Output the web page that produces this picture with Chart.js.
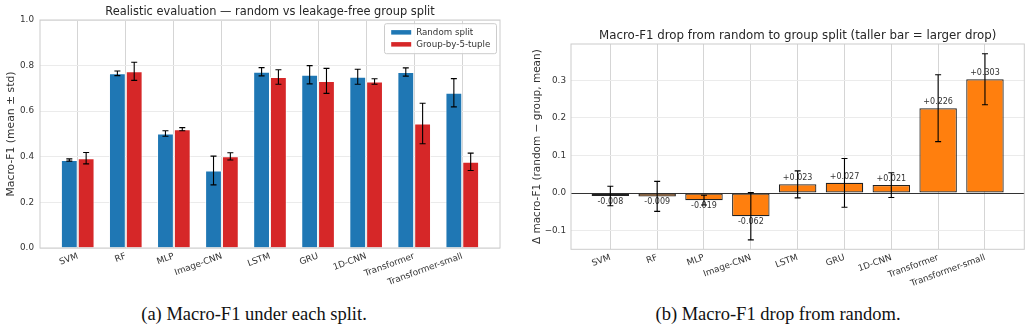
<!DOCTYPE html>
<html>
<head>
<meta charset="utf-8">
<script src="https://cdn.jsdelivr.net/npm/chart.js@4"></script>
<style>
  body { margin: 0; background: #fff; width: 1032px; height: 331px; position: relative; overflow: hidden; }
  canvas { position: absolute; top: 0; }
  #left { left: 0; }
  #right { left: 516px; }
  .cap { position: absolute; top: 304px; font-family: "Liberation Serif", serif; font-size: 18.5px; line-height: 21px; color: #111;
         white-space: nowrap; transform: translateX(-50%); }
</style>
</head>
<body>
<canvas id="left" width="516" height="290"></canvas>
<canvas id="right" width="516" height="290"></canvas>
<div class="cap" style="left:254px">(a) Macro-F1 under each split.</div>
<div class="cap" style="left:778px">(b) Macro-F1 drop from random.</div>
<script>
// models on the x axis
const categories = ['SVM', 'RF', 'MLP', 'Image-CNN', 'LSTM', 'GRU', '1D-CNN', 'Transformer', 'Transformer-small'];

// left panel: macro-F1 mean and std for each split
const randomMean = [0.386, 0.766, 0.502, 0.340, 0.773, 0.760, 0.751, 0.772, 0.681];
const randomStd  = [0.005, 0.010, 0.012, 0.063, 0.018, 0.040, 0.033, 0.018, 0.062];
const groupMean  = [0.394, 0.775, 0.521, 0.402, 0.750, 0.733, 0.730, 0.546, 0.378];
const groupStd   = [0.025, 0.040, 0.007, 0.016, 0.032, 0.055, 0.012, 0.089, 0.038];

// right panel: drop (random - group) and its spread
const delta    = [-0.008, -0.009, -0.019, -0.062, 0.023, 0.027, 0.021, 0.226, 0.303];
const deltaErr = [0.026, 0.040, 0.013, 0.063, 0.036, 0.065, 0.033, 0.089, 0.068];

const leftTicks = [0, 0.2, 0.4, 0.6, 0.8, 1.0];
const rightTicks = [-0.1, 0, 0.1, 0.2, 0.3];

Chart.defaults.font.family = "'DejaVu Sans', sans-serif";
Chart.defaults.color = '#333';

// light grey box round the plot, like matplotlib spines
const frame = {
  id: 'frame',
  afterDatasetsDraw(chart) {
    const a = chart.chartArea, c = chart.ctx;
    c.save();
    c.strokeStyle = '#cccccc';
    c.lineWidth = 1;
    c.strokeRect(a.left, a.top, a.right - a.left, a.bottom - a.top);
    c.restore();
  }
};

// title centred over the plot area (matplotlib style), not over the canvas
const plotTitle = {
  id: 'plotTitle',
  afterDraw(chart, args, opts) {
    const a = chart.chartArea, c = chart.ctx;
    c.save();
    c.font = opts.size + "px 'DejaVu Sans'";
    c.fillStyle = '#262626';
    c.textAlign = 'center';
    c.textBaseline = 'middle';
    c.fillText(opts.text, (a.left + a.right) / 2, opts.y);
    c.restore();
  }
};

// black error bars with caps, from dataset.errors
const errorBars = {
  id: 'errorBars',
  afterDatasetsDraw(chart) {
    const c = chart.ctx, y = chart.scales.y;
    chart.data.datasets.forEach((ds, di) => {
      if (!ds.errors) return;
      chart.getDatasetMeta(di).data.forEach((bar, i) => {
        const v = ds.data[i].y, e = ds.errors[i];
        const top = y.getPixelForValue(v + e), bot = y.getPixelForValue(v - e);
        c.save();
        c.strokeStyle = '#000';
        c.lineWidth = 1.1;
        c.beginPath();
        c.moveTo(bar.x, top); c.lineTo(bar.x, bot);
        c.moveTo(bar.x - 3, top); c.lineTo(bar.x + 3, top);
        c.moveTo(bar.x - 3, bot); c.lineTo(bar.x + 3, bot);
        c.stroke();
        c.restore();
      });
    });
  }
};

// "+0.226" style numbers above / below each bar
const valueLabels = {
  id: 'valueLabels',
  afterDatasetsDraw(chart) {
    const c = chart.ctx;
    const ds = chart.data.datasets[0];
    c.save();
    c.font = "8px 'DejaVu Sans'";
    c.fillStyle = '#333';
    c.textAlign = 'center';
    chart.getDatasetMeta(0).data.forEach((bar, i) => {
      const v = ds.data[i].y;
      const txt = (v >= 0 ? '+' : '') + v.toFixed(3);
      if (v >= 0) { c.textBaseline = 'bottom'; c.fillText(txt, bar.x, bar.y - 2); }
      else { c.textBaseline = 'top'; c.fillText(txt, bar.x, bar.y + 2); }
    });
    c.restore();
  }
};

// legend box in the upper right corner of the plot
const boxLegend = {
  id: 'boxLegend',
  afterDraw(chart) {
    const a = chart.chartArea, c = chart.ctx;
    const w = 112, h = 30;
    const x = a.right - w - 3.5, y = a.top + 3.7;
    c.save();
    c.fillStyle = 'rgba(255,255,255,0.85)';
    c.strokeStyle = '#cccccc';
    c.lineWidth = 1;
    c.beginPath();
    c.roundRect(x, y, w, h, 2);
    c.fill(); c.stroke();
    c.font = "8.7px 'DejaVu Sans'";
    c.textBaseline = 'middle';
    chart.data.datasets.forEach((ds, i) => {
      const cy = y + 8.6 + i * 12;
      c.fillStyle = ds.backgroundColor;
      c.fillRect(x + 6.7, cy - 2.2, 20, 4.5);
      c.fillStyle = '#333';
      c.fillText(ds.label, x + 31.7, cy);
    });
    c.restore();
  }
};

function xAxis(min, max) {
  return {
    type: 'linear', min: min, max: max, offset: false,
    afterBuildTicks: s => { s.ticks = categories.map((_, i) => ({ value: i })); },
    ticks: { callback: v => categories[v], minRotation: 20, maxRotation: 20, autoSkip: false, font: { size: 8.8 }, padding: 3 },
    grid: { color: '#d5d5d5', drawTicks: false, offset: false },
    border: { display: false }
  };
}

// (a) grouped bars
let lx = xAxis(-0.785, 8.785);
lx.afterFit = s => { s.height = 42; };
new Chart(document.getElementById('left'), {
  type: 'bar',
  data: {
    datasets: [
      { label: 'Random split', data: randomMean.map((v, i) => ({ x: i, y: v })), errors: randomStd,
        backgroundColor: '#1f77b4', borderColor: 'rgba(255,255,255,0.7)', borderWidth: 1,
        categoryPercentage: 0.7, barPercentage: 1 },
      { label: 'Group-by-5-tuple', data: groupMean.map((v, i) => ({ x: i, y: v })), errors: groupStd,
        backgroundColor: '#d62728', borderColor: 'rgba(255,255,255,0.7)', borderWidth: 1,
        categoryPercentage: 0.7, barPercentage: 1 }
    ]
  },
  options: {
    responsive: false, animation: false, devicePixelRatio: 1,
    layout: { padding: { left: 0, right: 16, top: 20, bottom: 0 } },
    plugins: {
      legend: { display: false }, tooltip: { enabled: false }, title: { display: false },
      plotTitle: { text: 'Realistic evaluation — random vs leakage-free group split', size: 11.4, y: 12 }
    },
    scales: {
      x: lx,
      y: {
        min: 0, max: 1,
        afterBuildTicks: s => { s.ticks = leftTicks.map(v => ({ value: v })); },
        ticks: { callback: v => v.toFixed(1), font: { size: 8.8 }, padding: 6 },
        grid: { color: '#ebebeb', drawTicks: false },
        border: { display: false },
        title: { display: true, text: 'Macro-F1 (mean ± std)', font: { size: 10.8 }, padding: { top: 5.2, bottom: 0 } },
        afterFit: s => { s.width = 40; }
      }
    }
  },
  plugins: [frame, errorBars, boxLegend, plotTitle]
});

// (b) drop bars
let rx = xAxis(-0.84, 8.84);
rx.afterFit = s => { s.height = 40.7; };
new Chart(document.getElementById('right'), {
  type: 'bar',
  data: {
    datasets: [
      { label: 'drop', data: delta.map((v, i) => ({ x: i, y: v })), errors: deltaErr,
        backgroundColor: '#ff7f0e', borderColor: '#222', borderWidth: 1.2, borderSkipped: false,
        categoryPercentage: 1, barPercentage: 0.8 }
    ]
  },
  options: {
    responsive: false, animation: false, devicePixelRatio: 1,
    layout: { padding: { left: 0, right: 7.7, top: 44, bottom: 0 } },
    plugins: {
      legend: { display: false }, tooltip: { enabled: false }, title: { display: false },
      plotTitle: { text: 'Macro-F1 drop from random to group split (taller bar = larger drop)', size: 11.8, y: 35.5 }
    },
    scales: {
      x: rx,
      y: {
        min: -0.15, max: 0.397,
        afterBuildTicks: s => { s.ticks = rightTicks.map(v => ({ value: v })); },
        ticks: { callback: v => v.toFixed(1).replace('-', '\u2212'), font: { size: 8.8 }, padding: 5 },
        grid: { color: c => c.tick && c.tick.value === 0 ? '#333' : '#ebebeb', drawTicks: false },
        border: { display: false },
        title: { display: true, text: 'Δ macro-F1 (random − group, mean)', font: { size: 10.5 }, padding: { top: 14.7, bottom: 0 } },
        afterFit: s => { s.width = 55; }
      }
    }
  },
  plugins: [frame, valueLabels, errorBars, plotTitle]
});
</script>
</body>
</html>
